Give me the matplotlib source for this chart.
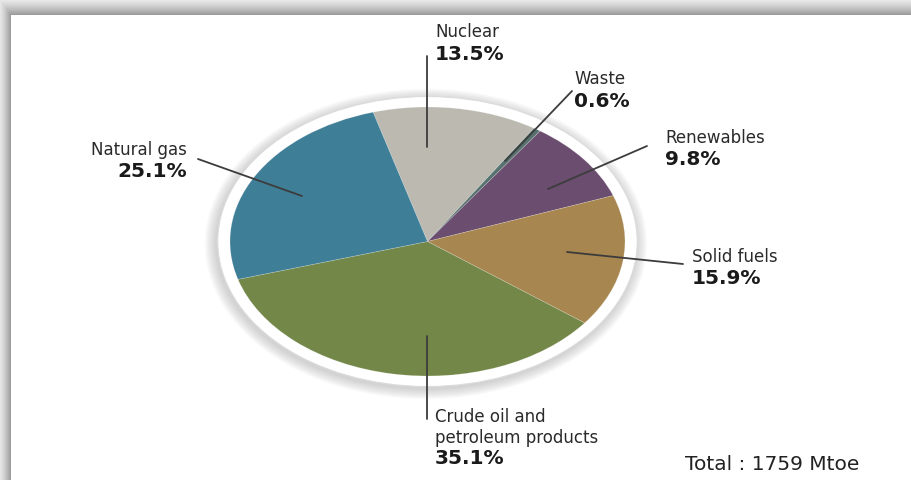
import numpy as np
import matplotlib.pyplot as plt
from matplotlib.patches import Ellipse

# Energy mix shares (%)
sources = ["Nuclear", "Waste", "Renewables", "Solid fuels",
           "Crude oil and\npetroleum products", "Natural gas"]
shares = [13.5, 0.6, 9.8, 15.9, 35.1, 25.1]
share_labels = ["13.5%", "0.6%", "9.8%", "15.9%", "35.1%", "25.1%"]
colors = ["#bcb9b1", "#56736f", "#6b4d6f", "#a8864f", "#738748", "#3f7e97"]
total_mtoe = 1759

W, H = 911, 481
# pie centre and semi-axes in pixels (measured from top-left)
CX, CY, RX, RY = 427.5, 242.5, 197.5, 134.5


def px(x, y):
    """Pixel position (from top-left) -> pie data coordinates."""
    return (x - CX) / RX, (CY - y) / RY


fig = plt.figure(figsize=(W / 100, H / 100), dpi=100)

# --- frame with soft drop shadow along the top and left edges ---
bg = fig.add_axes([0, 0, 1, 1])
yy, xx = np.mgrid[0:H, 0:W] + 0.5
top = np.where(yy < 16, 0.92 - 0.32 * (yy / 16) ** 1.3, 1.0)
left = np.where(xx < 11, 0.90 - 0.30 * (xx / 11) ** 1.3, 1.0)
corner = (yy < 16) & (xx < 11)
shade = np.where(corner, np.maximum(top, left), np.minimum(top, left))
bg.imshow(shade, cmap="gray", vmin=0, vmax=1, extent=(0, W, H, 0),
          interpolation="bilinear", aspect="auto")
bg.set_xlim(0, W)
bg.set_ylim(H, 0)
bg.axis("off")

# --- pie drawn on stretched axes so the circle becomes an ellipse ---
ax = fig.add_axes([0, 0, 1, 1])
ax.patch.set_alpha(0)

# soft halo shadow around the rim
for i in range(10):
    sx = 1.066 + 0.006 * (9 - i)
    sy = 1.082 + 0.008 * (9 - i)
    ax.add_patch(Ellipse((-0.008, -0.018), 2 * sx, 2 * sy,
                         facecolor="#707070", edgecolor="none",
                         alpha=0.03, zorder=0.2))
# white rim
ax.add_patch(Ellipse((0, 0), 2 * 1.062, 2 * 1.078, facecolor="white",
                     edgecolor="#dcdcdc", linewidth=0.8, zorder=0.5))

wedges, _ = ax.pie(shares, colors=colors, startangle=106, counterclock=False,
                   radius=1, center=(0, 0),
                   wedgeprops=dict(linewidth=0.5, edgecolor=(1, 1, 1, 0.25)))

ax.set_aspect("auto")
ax.set_xlim((0 - CX) / RX, (W - CX) / RX)
ax.set_ylim((CY - H) / RY, CY / RY)
ax.axis("off")

# --- labels and leader lines (pixel layout) ---
# (text x, first name baseline y, value baseline y, alignment, leader outer, leader inner)
layout = [
    (435, 37, 60, "left", (427, 57), (427, 148)),
    (574, 84, 107, "left", (572, 92), (505, 162)),
    (665, 143, 165, "left", (647, 147), (548, 190)),
    (692, 262, 284, "left", (683, 265), (567, 253)),
    (435, 422, 464, "left", (427, 420), (427, 337)),
    (187, 155, 177, "right", (198, 160), (302, 197)),
]

line_color = "#3c3c3c"
for name, val, (tx, ny, vy, ha, outer, inner) in zip(sources, share_labels, layout):
    ax.annotate("", xy=px(*inner), xytext=px(*outer),
                arrowprops=dict(arrowstyle="-", color=line_color, lw=1.3,
                                shrinkA=0, shrinkB=0), zorder=5)
    for k, part in enumerate(name.split("\n")):
        ax.text(*px(tx, ny + 21 * k), part, ha=ha, va="baseline",
                fontsize=12, color="#2a2a2a", family="DejaVu Sans", zorder=6)
    ax.text(*px(tx, vy), val, ha=ha, va="baseline", fontsize=14.5,
            fontweight="bold", color="#1a1a1a", family="DejaVu Sans", zorder=6)

ax.text(*px(772, 470), f"Total : {total_mtoe} Mtoe", ha="center", va="baseline",
        fontsize=14.5, color="#222222", family="DejaVu Sans", zorder=6)

fig.savefig("out.png", dpi=100)
